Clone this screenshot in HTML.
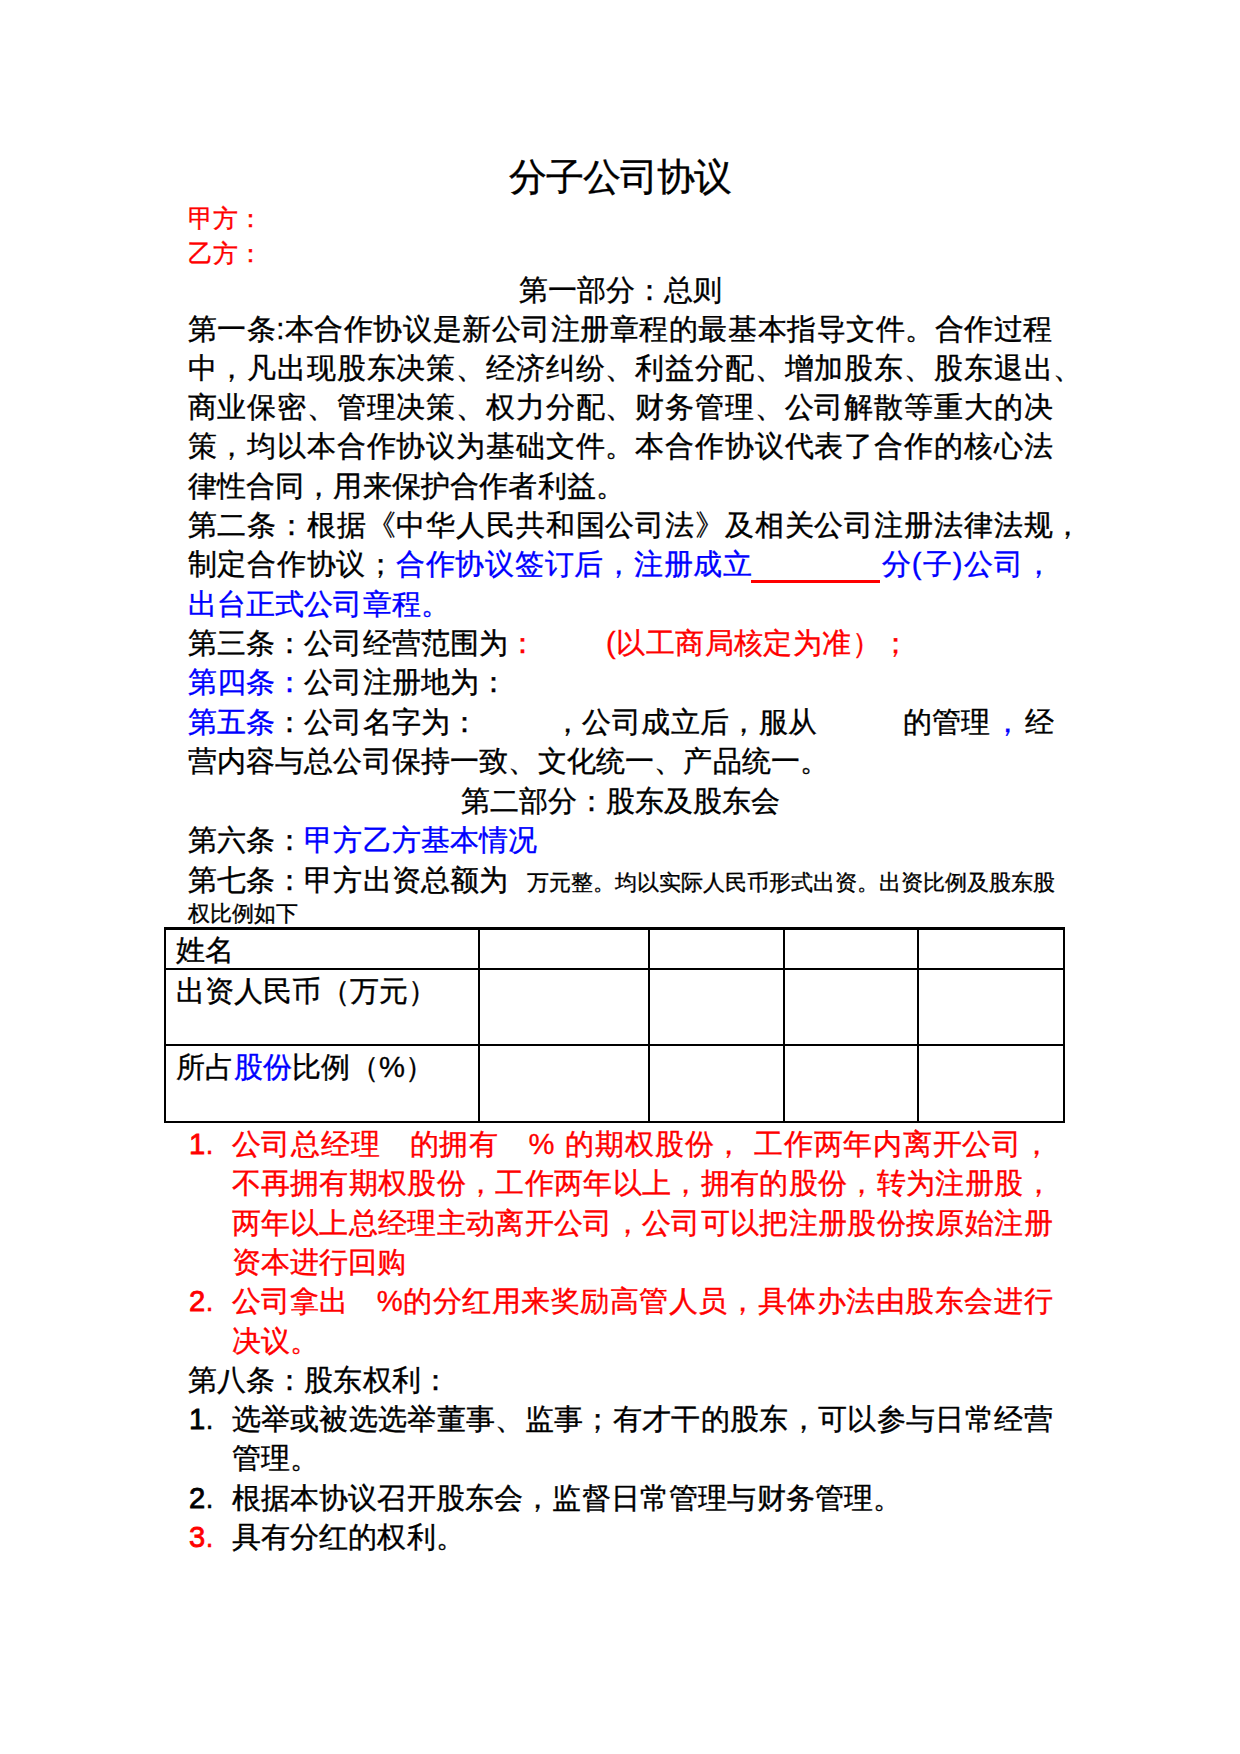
<!DOCTYPE html>
<html><head><meta charset="utf-8"><title>分子公司协议</title>
<style>
html,body{margin:0;padding:0;background:#fff;}
body{width:1240px;height:1754px;position:relative;overflow:hidden;font-family:"Liberation Sans",sans-serif;color:#000;}
.s{position:absolute;white-space:nowrap;-webkit-text-stroke:0.35px currentColor;}
.j{text-align:justify;text-align-last:justify;}
.c{left:0;width:1240px;text-align:center;}
table{position:absolute;border-collapse:collapse;}
</style></head><body>
<div class="s" style="left:508.50px;top:158.80px;font-size:37.500px;line-height:37.500px;letter-spacing:-1.000px">分子公司协议</div>
<div class="s" style="left:187.50px;top:206.00px;font-size:25.000px;line-height:25.000px;color:#ff0000">甲方：</div>
<div class="s" style="left:187.50px;top:240.50px;font-size:25.000px;line-height:25.000px;color:#ff0000">乙方：</div>
<div class="s c" style="top:275.60px;font-size:29.170px;line-height:29.170px">第一部分：总则</div>
<div class="s j" style="left:187.50px;width:865.00px;top:314.50px;font-size:29.170px;line-height:29.170px">第一条:本合作协议是新公司注册章程的最基本指导文件。合作过程</div>
<div class="s j" style="left:187.50px;width:865.00px;top:353.80px;font-size:29.170px;line-height:29.170px">中，凡出现股东决策、经济纠纷、利益分配、增加股东、股东退出</div>
<div class="s" style="left:1052.50px;top:353.80px;font-size:29.170px;line-height:29.170px;letter-spacing:0.170px">、</div>
<div class="s j" style="left:187.50px;width:865.00px;top:393.10px;font-size:29.170px;line-height:29.170px">商业保密、管理决策、权力分配、财务管理、公司解散等重大的决</div>
<div class="s j" style="left:187.50px;width:865.00px;top:432.40px;font-size:29.170px;line-height:29.170px">策，均以本合作协议为基础文件。本合作协议代表了合作的核心法</div>
<div class="s" style="left:187.50px;top:471.70px;font-size:29.170px;line-height:29.170px;letter-spacing:0.170px">律性合同，用来保护合作者利益。</div>
<div class="s j" style="left:187.50px;width:865.00px;top:511.00px;font-size:29.170px;line-height:29.170px">第二条：根据《中华人民共和国公司法》及相关公司注册法律法规</div>
<div class="s" style="left:1052.50px;top:511.00px;font-size:29.170px;line-height:29.170px;letter-spacing:0.170px">，</div>
<div class="s" style="left:187.50px;top:550.30px;font-size:29.170px;line-height:29.170px;letter-spacing:0.750px">制定合作协议；</div>
<div class="s" style="left:395.75px;top:550.30px;font-size:29.170px;line-height:29.170px;color:#0000ff;letter-spacing:0.750px">合作协议签订后，注册成立</div>
<div class="s j" style="left:881.50px;width:171.50px;top:550.30px;font-size:29.170px;line-height:29.170px;color:#0000ff">分(子)公司，</div>
<div class="s" style="left:187.50px;top:589.60px;font-size:29.170px;line-height:29.170px;color:#0000ff;letter-spacing:0.170px">出台正式公司章程。</div>
<div class="s" style="left:187.50px;top:628.90px;font-size:29.170px;line-height:29.170px;letter-spacing:0.170px">第三条：公司经营范围为</div>
<div class="s" style="left:508.00px;top:628.90px;font-size:29.170px;line-height:29.170px;color:#ff0000;letter-spacing:0.170px">：</div>
<div class="s" style="left:606.00px;top:628.90px;font-size:29.170px;line-height:29.170px;color:#ff0000;letter-spacing:0.450px">(以工商局核定为准）；</div>
<div class="s" style="left:187.50px;top:668.20px;font-size:29.170px;line-height:29.170px;color:#0000ff;letter-spacing:0.170px">第四条：</div>
<div class="s" style="left:304.18px;top:668.20px;font-size:29.170px;line-height:29.170px;letter-spacing:0.170px">公司注册地为：</div>
<div class="s" style="left:187.50px;top:707.50px;font-size:29.170px;line-height:29.170px;color:#0000ff;letter-spacing:0.170px">第五条</div>
<div class="s" style="left:275.01px;top:707.50px;font-size:29.170px;line-height:29.170px;letter-spacing:0.170px">：公司名字为：</div>
<div class="s" style="left:553.00px;top:707.50px;font-size:29.170px;line-height:29.170px;letter-spacing:0.400px">，公司成立后，服从</div>
<div class="s" style="left:903.00px;top:707.50px;font-size:29.170px;line-height:29.170px;letter-spacing:0.170px">的管理</div>
<div class="s" style="left:993.00px;top:707.50px;font-size:29.170px;line-height:29.170px;color:#0000ff;letter-spacing:0.170px">，</div>
<div class="s" style="left:1024.50px;top:707.50px;font-size:29.170px;line-height:29.170px;letter-spacing:0.170px">经</div>
<div class="s" style="left:187.50px;top:746.80px;font-size:29.170px;line-height:29.170px;letter-spacing:0.170px">营内容与总公司保持一致、文化统一、产品统一。</div>
<div class="s c" style="top:786.70px;font-size:29.170px;line-height:29.170px">第二部分：股东及股东会</div>
<div class="s" style="left:187.50px;top:825.80px;font-size:29.170px;line-height:29.170px;letter-spacing:0.170px">第六条：</div>
<div class="s" style="left:304.18px;top:825.80px;font-size:29.170px;line-height:29.170px;color:#0000ff;letter-spacing:0.170px">甲方乙方基本情况</div>
<div class="s" style="left:187.50px;top:866.30px;font-size:29.170px;line-height:29.170px;letter-spacing:0.170px">第七条：甲方出资总额为</div>
<div class="s j" style="left:526.50px;width:524.00px;top:872.30px;font-size:21.875px;line-height:21.875px">万元整。均以实际人民币形式出资。出资比例及股东股</div>
<div class="s" style="left:187.50px;top:903.30px;font-size:21.875px;line-height:21.875px">权比例如下</div>
<div class="s" style="left:189.00px;top:1130.00px;font-size:29.170px;line-height:29.170px;color:#ff0000;letter-spacing:0.170px;-webkit-text-stroke:0.8px currentColor">1<span style="-webkit-text-stroke:0.3px currentColor">.</span></div>
<div class="s" style="left:231.50px;top:1130.00px;font-size:29.170px;line-height:29.170px;color:#ff0000;letter-spacing:0.750px">公司总经理</div>
<div class="s" style="left:409.50px;top:1130.00px;font-size:29.170px;line-height:29.170px;color:#ff0000;letter-spacing:0.750px">的拥有</div>
<div class="s" style="left:528.50px;top:1130.00px;font-size:29.170px;line-height:29.170px;color:#ff0000;letter-spacing:0.170px">%</div>
<div class="s" style="left:565.00px;top:1130.00px;font-size:29.170px;line-height:29.170px;color:#ff0000;letter-spacing:0.900px">的期权股份，</div>
<div class="s j" style="left:754.00px;width:297.00px;top:1130.00px;font-size:29.170px;line-height:29.170px;color:#ff0000">工作两年内离开公司，</div>
<div class="s j" style="left:231.50px;width:821.00px;top:1169.30px;font-size:29.170px;line-height:29.170px;color:#ff0000">不再拥有期权股份，工作两年以上，拥有的股份，转为注册股，</div>
<div class="s j" style="left:231.50px;width:821.00px;top:1208.60px;font-size:29.170px;line-height:29.170px;color:#ff0000">两年以上总经理主动离开公司，公司可以把注册股份按原始注册</div>
<div class="s" style="left:231.50px;top:1247.90px;font-size:29.170px;line-height:29.170px;color:#ff0000;letter-spacing:0.170px">资本进行回购</div>
<div class="s" style="left:189.00px;top:1287.20px;font-size:29.170px;line-height:29.170px;color:#ff0000;letter-spacing:0.170px;-webkit-text-stroke:0.8px currentColor">2<span style="-webkit-text-stroke:0.3px currentColor">.</span></div>
<div class="s" style="left:231.50px;top:1287.20px;font-size:29.170px;line-height:29.170px;color:#ff0000;letter-spacing:0.170px">公司拿出</div>
<div class="s" style="left:376.70px;top:1287.20px;font-size:29.170px;line-height:29.170px;color:#ff0000;letter-spacing:0.170px">%</div>
<div class="s j" style="left:403.00px;width:649.50px;top:1287.20px;font-size:29.170px;line-height:29.170px;color:#ff0000">的分红用来奖励高管人员，具体办法由股东会进行</div>
<div class="s" style="left:231.50px;top:1326.50px;font-size:29.170px;line-height:29.170px;color:#ff0000;letter-spacing:0.170px">决议。</div>
<div class="s" style="left:187.50px;top:1365.80px;font-size:29.170px;line-height:29.170px;letter-spacing:0.170px">第八条：股东权利：</div>
<div class="s" style="left:189.00px;top:1405.10px;font-size:29.170px;line-height:29.170px;letter-spacing:0.170px;-webkit-text-stroke:0.8px currentColor">1<span style="-webkit-text-stroke:0.3px currentColor">.</span></div>
<div class="s j" style="left:231.50px;width:821.00px;top:1405.10px;font-size:29.170px;line-height:29.170px">选举或被选选举董事、监事；有才干的股东，可以参与日常经营</div>
<div class="s" style="left:231.50px;top:1444.40px;font-size:29.170px;line-height:29.170px;letter-spacing:0.170px">管理。</div>
<div class="s" style="left:189.00px;top:1483.70px;font-size:29.170px;line-height:29.170px;letter-spacing:0.170px;-webkit-text-stroke:0.8px currentColor">2<span style="-webkit-text-stroke:0.3px currentColor">.</span></div>
<div class="s" style="left:231.50px;top:1483.70px;font-size:29.170px;line-height:29.170px;letter-spacing:0.170px">根据本协议召开股东会，监督日常管理与财务管理。</div>
<div class="s" style="left:189.00px;top:1523.00px;font-size:29.170px;line-height:29.170px;color:#ff0000;letter-spacing:0.170px;-webkit-text-stroke:0.8px currentColor">3<span style="-webkit-text-stroke:0.3px currentColor">.</span></div>
<div class="s" style="left:231.50px;top:1523.00px;font-size:29.170px;line-height:29.170px;letter-spacing:0.170px">具有分红的权利。</div>
<div style="position:absolute;left:751px;top:580px;width:129px;height:3px;background:#ff0000"></div>
<div style="position:absolute;left:164px;top:927px;width:901px;height:3px;background:#000"></div>
<div style="position:absolute;left:164px;top:968px;width:901px;height:2px;background:#000"></div>
<div style="position:absolute;left:164px;top:1044px;width:901px;height:2px;background:#000"></div>
<div style="position:absolute;left:164px;top:1121px;width:901px;height:2px;background:#000"></div>
<div style="position:absolute;left:164px;top:927px;width:2px;height:196px;background:#000"></div>
<div style="position:absolute;left:478px;top:927px;width:2px;height:196px;background:#000"></div>
<div style="position:absolute;left:648px;top:927px;width:2px;height:196px;background:#000"></div>
<div style="position:absolute;left:783px;top:927px;width:2px;height:196px;background:#000"></div>
<div style="position:absolute;left:917px;top:927px;width:2px;height:196px;background:#000"></div>
<div style="position:absolute;left:1063px;top:927px;width:2px;height:196px;background:#000"></div>
<div class="s" style="left:176px;top:936.2px;font-size:29.17px;line-height:29.17px">姓名</div>
<div class="s" style="left:176px;top:977px;font-size:29.17px;line-height:29.17px">出资人民币（万元）</div>
<div class="s" style="left:176px;top:1052.5px;font-size:29.17px;line-height:29.17px">所占<span style="color:#0000ff">股份</span>比例（%）</div>
</body></html>
